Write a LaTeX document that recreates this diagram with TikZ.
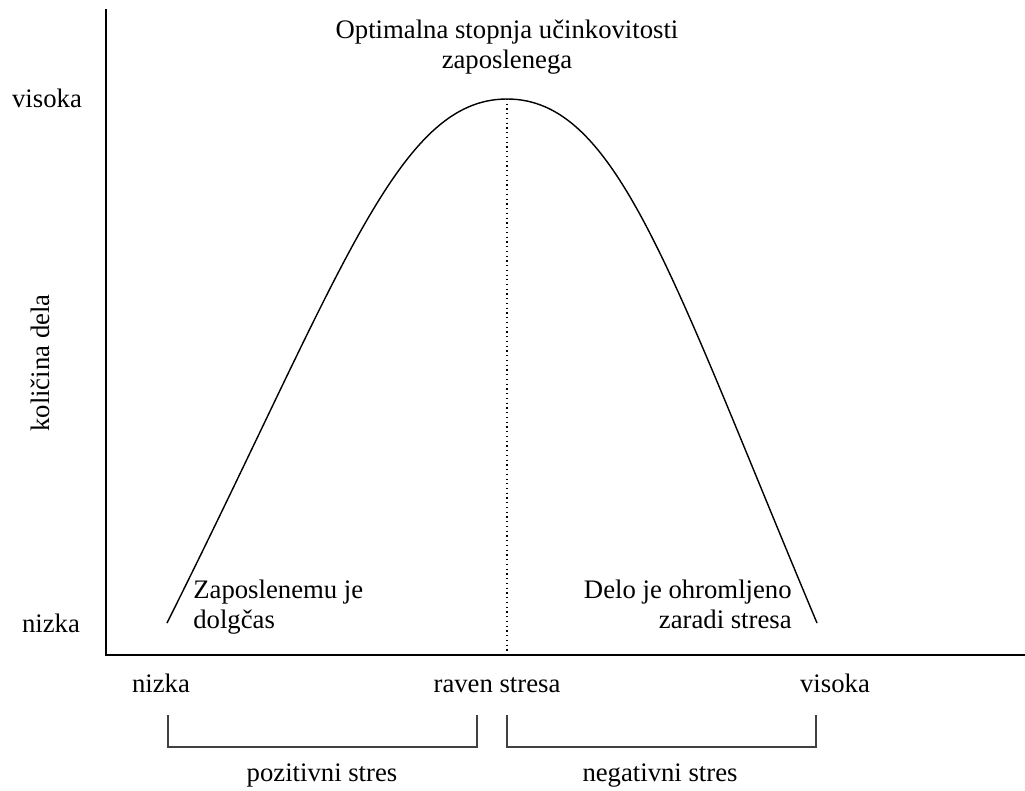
\documentclass[tikz,border=0pt]{standalone}
\usepackage{fontspec}
\setmainfont{Liberation Serif}
\usetikzlibrary{positioning}

\begin{document}
\begin{tikzpicture}[
  x=0.02cm,y=-0.02cm,
  font=\fontsize{15.2}{17}\selectfont,
  axis/.style={line width=0.9pt},
  curve/.style={line width=0.8pt},
  bracket/.style={line width=0.7pt,draw=black!75},
  lbl/.style={inner sep=0pt,anchor=base}
]
\useasboundingbox (0,0) rectangle (1025,791);
\coordinate (o) at (106,655);
\coordinate (ytop) at (106,9);
\coordinate (xend) at (1025,655);
\draw[axis] (ytop) -- (o) -- (xend);
\coordinate (c0) at (167,623);
\coordinate (peak) at (507,99);
\coordinate (c1) at (817,623);
\draw[curve] (c0) .. controls (342,273) and (397,99) .. (peak)
  .. controls (617,99) and (670,273) .. (c1);
\draw[dotted,line width=0.7pt] (peak) -- (peak |- o);
\node[inner sep=0pt,anchor=north,align=center] (opt) at (507,20) {Optimalna stopnja učinkovitosti\\zaposlenega};
\node[inner sep=0pt,anchor=north west,align=left] (dolg) at (193,580) {Zaposlenemu je\\dolgčas};
\node[inner sep=0pt,anchor=north east,align=right] (ohrom) at (792,580) {Delo je ohromljeno\\zaradi stresa};
\node[lbl] (yhi) at (47,107) {visoka};
\node[lbl] (ylo) at (51,632) {nizka};
\node[rotate=90,inner sep=0pt] (ylab) at (40,363) {količina dela};
\node[lbl] (xlo) at (161,692) {nizka};
\node[lbl] (xmid) at (497,692) {raven stresa};
\node[lbl] (xhi) at (835,692) {visoka};
\coordinate (b0) at (168,715);
\coordinate (b1) at (477,715);
\coordinate (b2) at (507,715);
\coordinate (b3) at (816,715);
\draw[bracket] (b0) -- ++(0,32) -| (b1);
\draw[bracket] (b2) -- ++(0,32) -| (b3);
\node[lbl] (pos) at (322,781) {pozitivni stres};
\node[lbl] (neg) at (660,781) {negativni stres};
\end{tikzpicture}
\end{document}
